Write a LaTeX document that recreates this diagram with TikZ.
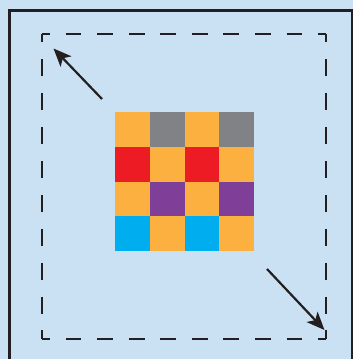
\documentclass[tikz,border=0pt]{standalone}
\usetikzlibrary{arrows.meta}

\definecolor{skyback}{RGB}{202,225,244}
\definecolor{tileorange}{RGB}{251,176,64}
\definecolor{tilegray}{RGB}{128,130,133}
\definecolor{tilered}{RGB}{237,28,36}
\definecolor{tilepurple}{RGB}{127,63,152}
\definecolor{tilecyan}{RGB}{0,174,239}
\definecolor{inkdark}{RGB}{35,31,32}

\begin{document}
\begin{tikzpicture}[x=1pt, y=-1pt,
  tile/.style={rectangle, minimum size=34.75pt, inner sep=0pt, outer sep=0pt},
  frame/.style={draw=inkdark, line width=3pt},
  guideh/.style={draw=inkdark, line width=1.3pt, dash pattern=on 15.78pt off 15.78pt, dash phase=7.89pt},
  guidev/.style={draw=inkdark, line width=1.3pt, dash pattern=on 16.94pt off 16.94pt, dash phase=8.47pt},
  arrow/.style={-{Stealth[length=18pt, width=15pt, inset=4.5pt]}, line width=2.2pt, draw=inkdark}
]

% ------------------------------------------------------------
% Background and frame
% ------------------------------------------------------------

\fill[skyback] (0,0) rectangle (353,359);
\useasboundingbox (0,0) rectangle (353,359);

\draw[frame] (9,10.5) rectangle (352,375);

% ------------------------------------------------------------
% Dashed outline
% ------------------------------------------------------------

\coordinate (g-nw) at (42,34);
\coordinate (g-ne) at (326,34);
\coordinate (g-se) at (326,339);
\coordinate (g-sw) at (42,339);

\draw[guideh] (g-nw) -- (g-ne);
\draw[guideh] (g-sw) -- (g-se);
\draw[guidev] (g-nw) -- (g-sw);
\draw[guidev] (g-ne) -- (g-se);

% ------------------------------------------------------------
% Tile grid
% ------------------------------------------------------------

\foreach \row/\accent in {1/tilegray, 2/tilered, 3/tilepurple, 4/tilecyan}
  \foreach \col in {1,...,4} {
    \pgfmathtruncatemacro{\parity}{mod(\row+\col,2)}
    \ifnum\parity=0 \edef\hue{tileorange}\else\edef\hue{\accent}\fi
    \node[tile, fill=\hue] (cell-\row-\col) at ({115+34.75*(\col-0.5)},{112+34.75*(\row-0.5)}) {};
  }

% ------------------------------------------------------------
% Growth arrows
% ------------------------------------------------------------

\coordinate (nw-tail) at (102,99);
\coordinate (nw-tip) at (53.5,48.5);
\coordinate (se-tail) at (267,269);
\coordinate (se-tip) at (324.5,330);

\draw[arrow] (nw-tail) -- (nw-tip);
\draw[arrow] (se-tail) -- (se-tip);

\end{tikzpicture}
\end{document}
